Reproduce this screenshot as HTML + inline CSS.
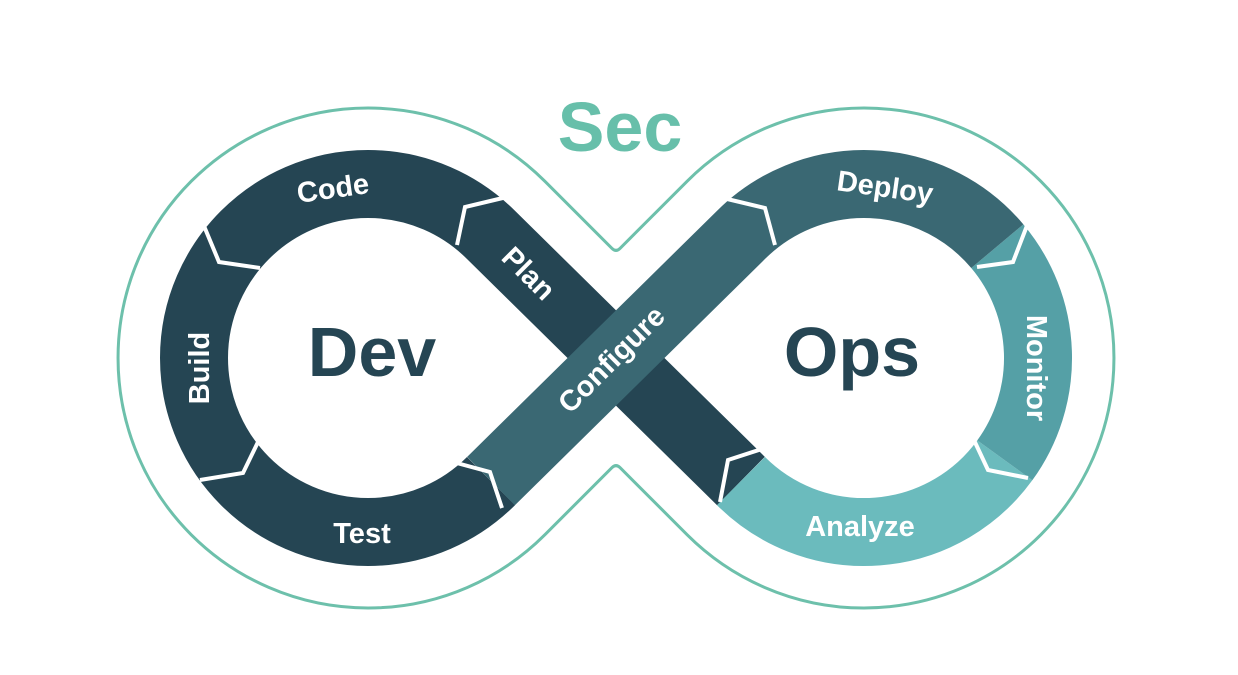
<!DOCTYPE html>
<html><head><meta charset="utf-8"><style>
html,body{margin:0;padding:0;background:#fff}
svg{display:block}
text{font-family:"Liberation Sans",Arial,sans-serif;font-weight:bold}
</style></head><body>
<svg width="1238" height="675" viewBox="0 0 1238 675" xmlns="http://www.w3.org/2000/svg">
<rect width="1238" height="675" fill="#fff"/>
<path d="M544.8,181.2 L612,248.4 Q616,252.4 620,248.4 L687.2,181.2 A250 250 0 1 1 687.2,534.8 L620,467.6 Q616,463.6 612,467.6 L544.8,534.8 A250 250 0 1 1 544.8,181.2 Z" fill="none" stroke="#6DC0AB" stroke-width="3"/>
<path d="M491.04,481.04 A174 174 0 1 1 491.04,234.96 L740.96,481.04" fill="none" stroke="#254553" stroke-width="68"/>
<path d="M1004.8,460.3 A174 174 0 0 1 740.96,481.04" fill="none" stroke="#6BBBBD" stroke-width="68"/>
<path d="M997.3,246.2 A174 174 0 0 1 1004.8,460.3" fill="none" stroke="#55A0A6" stroke-width="68"/>
<path d="M491.04,481.04 L740.96,234.96 A174 174 0 0 1 997.3,246.2" fill="none" stroke="#3A6873" stroke-width="68"/>
<g fill="none" stroke="#fff" stroke-width="4" stroke-linejoin="miter">
<polyline points="204,226 219,262 260,268"/>
<polyline points="200,480 243,473 258,442"/>
<polyline points="507,197 465,207 457,245"/>
<polyline points="453,462 490,472 502,508"/>
<polyline points="723,198 765,208 775,245"/>
<polyline points="1028,223 1013,262 977,267"/>
<polyline points="973,438 988,470 1028,478"/>
<polyline points="720,502 728,460 765,448"/>
</g>
<g fill="#fff" font-size="29" text-anchor="middle" dominant-baseline="central">
<text x="333" y="189" transform="rotate(-8 333 189)">Code</text>
<text x="200" y="368" transform="rotate(-90 200 368)">Build</text>
<text x="362" y="534">Test</text>
<text x="528" y="274" transform="rotate(45 528 274)">Plan</text>
<text x="612" y="360" transform="rotate(-45 612 360)">Configure</text>
<text x="885" y="188" transform="rotate(8 885 188)">Deploy</text>
<text x="1036" y="368" transform="rotate(90 1036 368)">Monitor</text>
<text x="860" y="527">Analyze</text>
</g>
<g fill="#254553" font-size="70" text-anchor="middle" dominant-baseline="central">
<text x="372" y="352">Dev</text>
<text x="852" y="352">Ops</text>
</g>
<text x="620" y="127" fill="#67BFAA" font-size="70" text-anchor="middle" dominant-baseline="central">Sec</text>
</svg>
</body></html>
